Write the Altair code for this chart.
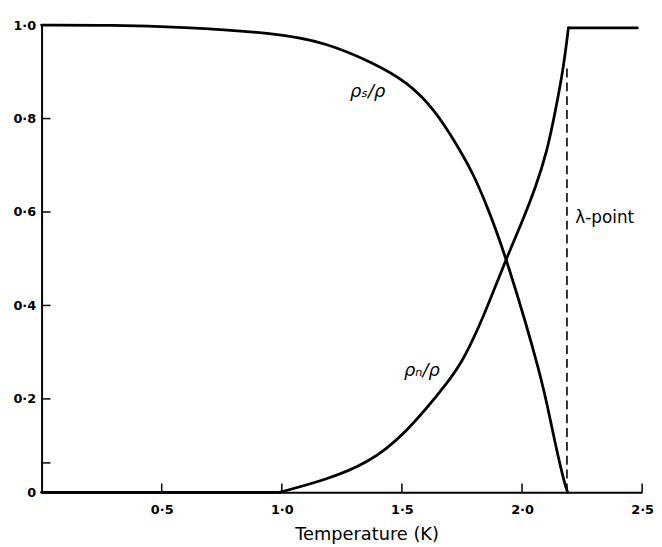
import altair as alt
import pandas as pd

# superfluid fraction rho_s/rho
rho_s_T = [0.0, 0.3, 0.573, 0.982, 1.186, 1.378, 1.524, 1.635, 1.729, 1.798, 1.859, 1.937, 2.084, 2.124, 2.173, 2.190]
rho_s = [1.0, 1.0, 0.996, 0.983, 0.962, 0.920, 0.878, 0.820, 0.744, 0.681, 0.607, 0.499, 0.243, 0.137, 0.025, 0.0]

# normal fraction rho_n/rho: zero at low temperature
rho_n_low_T = [0.0, 0.99]
rho_n_low = [0.0, 0.0]
# rising part below the lambda point
rho_n_T = [0.99, 1.186, 1.361, 1.512, 1.704, 1.757, 1.839, 1.934, 2.002, 2.056, 2.104, 2.138, 2.172, 2.193]
rho_n = [0.0, 0.027, 0.063, 0.123, 0.243, 0.285, 0.374, 0.500, 0.581, 0.652, 0.729, 0.814, 0.906, 0.994]
# above the lambda point
rho_n_above_T = [2.193, 2.48]
rho_n_above = [0.994, 0.994]

x_tick_vals = [0.5, 1.0, 1.5, 2.0, 2.5]
y_label_vals = [0.0, 0.2, 0.4, 0.6, 0.8, 1.0]
y_tick_vals = [0.063, 0.2, 0.4, 0.6, 0.8]

lambda_T = 2.187
lambda_top = 0.915

ann_text = ["ρₛ/ρ", "ρₙ/ρ"]
ann_T = [1.357, 1.583]
ann_v = [0.856, 0.26]

W, H = 608, 473
FONT = "DejaVu Sans"

curves = pd.DataFrame(
    [{"T": t, "v": v, "s": "rs"} for t, v in zip(rho_s_T, rho_s)]
    + [{"T": t, "v": v, "s": "rn"} for t, v in zip(rho_n_T, rho_n)]
)
flats = pd.DataFrame(
    [{"T": t, "v": v, "s": "low"} for t, v in zip(rho_n_low_T, rho_n_low)]
    + [{"T": t, "v": v, "s": "high"} for t, v in zip(rho_n_above_T, rho_n_above)]
)

xs = alt.Scale(domain=[0, 2.5], nice=False, zero=False)
ys = alt.Scale(domain=[0, 1], nice=False)

xaxis = alt.Axis(
    values=x_tick_vals,
    labelExpr="replace(format(datum.value, '.1f'), '.', '·')",
    title="Temperature (K)",
    titleX=329, titleY=48, titleAlign="center", titleBaseline="alphabetic",
    titleFont=FONT, titleFontSize=18, titleFontWeight="normal", titleColor="black",
    labelFont=FONT, labelFontSize=13, labelFontWeight="bold", labelColor="black",
    labelPadding=11, tickSize=0, grid=False, domainColor="black", domainWidth=2,
    labelFlush=False,
)
yaxis = alt.Axis(
    values=y_label_vals,
    labelExpr="datum.value == 0 ? '0' : replace(format(datum.value, '.1f'), '.', '·')",
    title=None,
    labelFont=FONT, labelFontSize=13, labelFontWeight="bold", labelColor="black",
    labelPadding=6, tickSize=0, grid=False, domainColor="black", domainWidth=2,
    labelFlush=False,
)

lines = alt.Chart(curves).mark_line(
    color="black", strokeWidth=2.8, interpolate="basis", strokeCap="round"
).encode(
    x=alt.X("T:Q", scale=xs, axis=xaxis),
    y=alt.Y("v:Q", scale=ys, axis=yaxis),
    detail="s:N",
)
flat_lines = alt.Chart(flats).mark_line(color="black", strokeWidth=2.8, strokeCap="round").encode(
    x=alt.X("T:Q", scale=xs), y=alt.Y("v:Q", scale=ys), detail="s:N"
)

lam = alt.Chart(pd.DataFrame({"T": [lambda_T], "y0": [0.0], "y1": [lambda_top]})).mark_rule(
    color="black", strokeWidth=1.6, strokeDash=[9, 5]
).encode(x=alt.X("T:Q", scale=xs), y=alt.Y("y0:Q", scale=ys), y2="y1:Q")

xt = alt.Chart(pd.DataFrame({"T": x_tick_vals})).mark_rule(color="black", strokeWidth=1.5).encode(
    x=alt.X("T:Q", scale=xs), y=alt.value(H), y2=alt.value(H - 9)
)
yt = alt.Chart(pd.DataFrame({"v": y_tick_vals})).mark_rule(color="black", strokeWidth=1.5).encode(
    y=alt.Y("v:Q", scale=ys), x=alt.value(0), x2=alt.value(9)
)

ann = alt.Chart(pd.DataFrame({"t": ann_text, "T": ann_T, "v": ann_v})).mark_text(
    font=FONT, fontSize=18, fontStyle="italic", color="black"
).encode(x=alt.X("T:Q", scale=xs), y=alt.Y("v:Q", scale=ys), text="t:N")

lam_txt = alt.Chart(pd.DataFrame({"t": ["λ-point"], "T": [2.222], "v": [0.588]})).mark_text(
    font=FONT, fontSize=17, color="black", align="left", baseline="middle"
).encode(x=alt.X("T:Q", scale=xs), y=alt.Y("v:Q", scale=ys), text="t:N")

chart = alt.layer(lines, flat_lines, lam, xt, yt, ann, lam_txt).properties(
    width=W, height=H,
    padding={"left": 34, "top": 14, "right": 12, "bottom": 50},
    autosize=alt.AutoSizeParams(type="none"),
    background="white",
).configure_view(strokeWidth=0)

chart.save("out.html", embed_options={"renderer": "svg", "actions": False})
